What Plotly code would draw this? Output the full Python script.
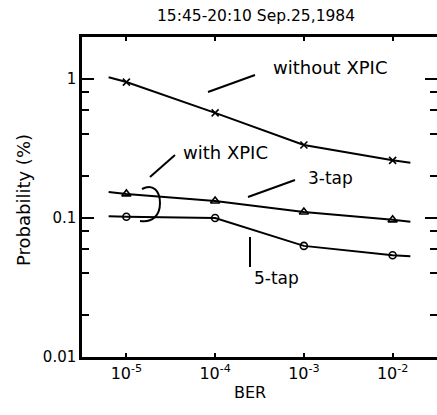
import plotly.graph_objects as go

# ---- data ----
ber_line = [10**-5.2, 1e-5, 1e-4, 1e-3, 1e-2, 10**-1.8]
ber_pts = [1e-5, 1e-4, 1e-3, 1e-2]

without_line = [1.03, 0.95, 0.57, 0.335, 0.26, 0.25]
tap3_line = [0.154, 0.149, 0.1325, 0.1105, 0.097, 0.094]
tap5_line = [0.103, 0.102, 0.100, 0.063, 0.054, 0.053]

without_pts = without_line[1:5]
tap3_pts = tap3_line[1:5]
tap5_pts = tap5_line[1:5]

y_major = [0.01, 0.1, 1]
y_major_text = ["0.01", "0.1", "1"]
y_minor = [0.02, 0.04, 0.06, 0.08, 0.2, 0.4, 0.6, 0.8]
x_ticks = [1e-5, 1e-4, 1e-3, 1e-2]
x_ticktext = ["10<sup>-5</sup>", "10<sup>-4</sup>", "10<sup>-3</sup>", "10<sup>-2</sup>"]

W, H = 437, 415
L, R, T, B = 82, 0, 37, 58
PW, PH = W - L - R, H - T - B


def fx(px):
    return (px - L) / PW


def fy(py):
    return (H - B - py) / PH


FONT = "DejaVu Sans"
fig = go.Figure()
lw = 2
for ys in (without_line, tap3_line, tap5_line):
    fig.add_trace(go.Scatter(x=ber_line, y=ys, mode="lines",
                             line=dict(color="black", width=lw), showlegend=False))
fig.add_trace(go.Scatter(x=ber_pts, y=without_pts, mode="markers",
                         marker=dict(symbol="x-thin-open", size=7, color="black",
                                     line=dict(width=1.6, color="black")), showlegend=False))
fig.add_trace(go.Scatter(x=ber_pts, y=tap3_pts, mode="markers",
                         marker=dict(symbol="triangle-up-open", size=8, color="black",
                                     line=dict(width=1.6, color="black")), showlegend=False))
fig.add_trace(go.Scatter(x=ber_pts, y=tap5_pts, mode="markers",
                         marker=dict(symbol="circle-open", size=7, color="black",
                                     line=dict(width=1.6, color="black")), showlegend=False))
# right-side ticks (invisible trace on second axis)
fig.add_trace(go.Scatter(x=ber_pts, y=tap5_pts, yaxis="y2", mode="markers",
                         marker=dict(opacity=0), hoverinfo="skip", showlegend=False))

fig.update_layout(
    width=W, height=H,
    margin=dict(l=L, r=R, t=T, b=B),
    plot_bgcolor="white", paper_bgcolor="white",
    font=dict(family=FONT, size=14, color="black"),
    xaxis=dict(type="log", range=[-5.5, -1.5], tickvals=x_ticks, ticktext=x_ticktext,
               ticks="inside", ticklen=4, tickwidth=1.5, tickcolor="black",
               showline=True, linewidth=2.5, linecolor="black", mirror="ticks",
               showgrid=False, zeroline=False,
               tickfont=dict(size=16)),
    yaxis=dict(type="log", range=[-2, 0.302], tickvals=y_major, ticktext=y_major_text,
               ticks="inside", ticklen=12, tickwidth=2, tickcolor="black",
               minor=dict(tickmode="array", tickvals=y_minor, ticks="inside",
                          ticklen=7, tickwidth=2, tickcolor="black"),
               showline=True, linewidth=2.5, linecolor="black",
               showgrid=False, zeroline=False,
               tickfont=dict(size=15)),
    yaxis2=dict(type="log", range=[-2, 0.302], overlaying="y", side="right",
                tickvals=y_major, ticktext=["", "", ""],
                ticks="inside", ticklen=12, tickwidth=2, tickcolor="black",
                minor=dict(tickmode="array", tickvals=y_minor, ticks="inside",
                           ticklen=7, tickwidth=2, tickcolor="black"),
                showline=False, showgrid=False, zeroline=False, showticklabels=False),
)

line_style = dict(color="black", width=2)
segs = [((208, 92), (255, 75)), ((150, 177), (175, 155)),
        ((248, 197), (295, 180)), ((250, 237), (250, 267))]
for (x0, y0), (x1, y1) in segs:
    fig.add_shape(type="line", xref="paper", yref="paper",
                  x0=fx(x0), y0=fy(y0), x1=fx(x1), y1=fy(y1), line=line_style)


def P(px, py):
    return f"{fx(px):.4f},{fy(py):.4f}"


path = (f"M {P(142,189)} C {P(153,183)} {P(160,191)} {P(160,203)} "
        f"C {P(160,216)} {P(152,223)} {P(140,221)}")
fig.add_shape(type="path", xref="paper", yref="paper", path=path, line=line_style)

notes = [("without XPIC", 330, 67, "center", 0, 18),
         ("with XPIC", 225, 152, "center", 0, 18),
         ("3-tap", 330, 178, "center", 0, 17),
         ("5-tap", 252, 278, "left", 0, 17),
         ("15:45-20:10 Sep.25,1984", 256, 16, "center", 0, 15.5),
         ("BER", 250, 392, "center", 0, 16),
         ("Probability (%)", 23, 200, "center", -90, 18)]
for txt, px, py, anc, ang, sz in notes:
    fig.add_annotation(text=txt, xref="paper", yref="paper", x=fx(px), y=fy(py),
                       xanchor=anc, yanchor="middle", showarrow=False, textangle=ang,
                       font=dict(size=sz, family=FONT))

fig.write_html("out.html", config={"displayModeBar": False},
               post_script="document.body.style.margin='0';document.body.style.overflow='hidden';")
